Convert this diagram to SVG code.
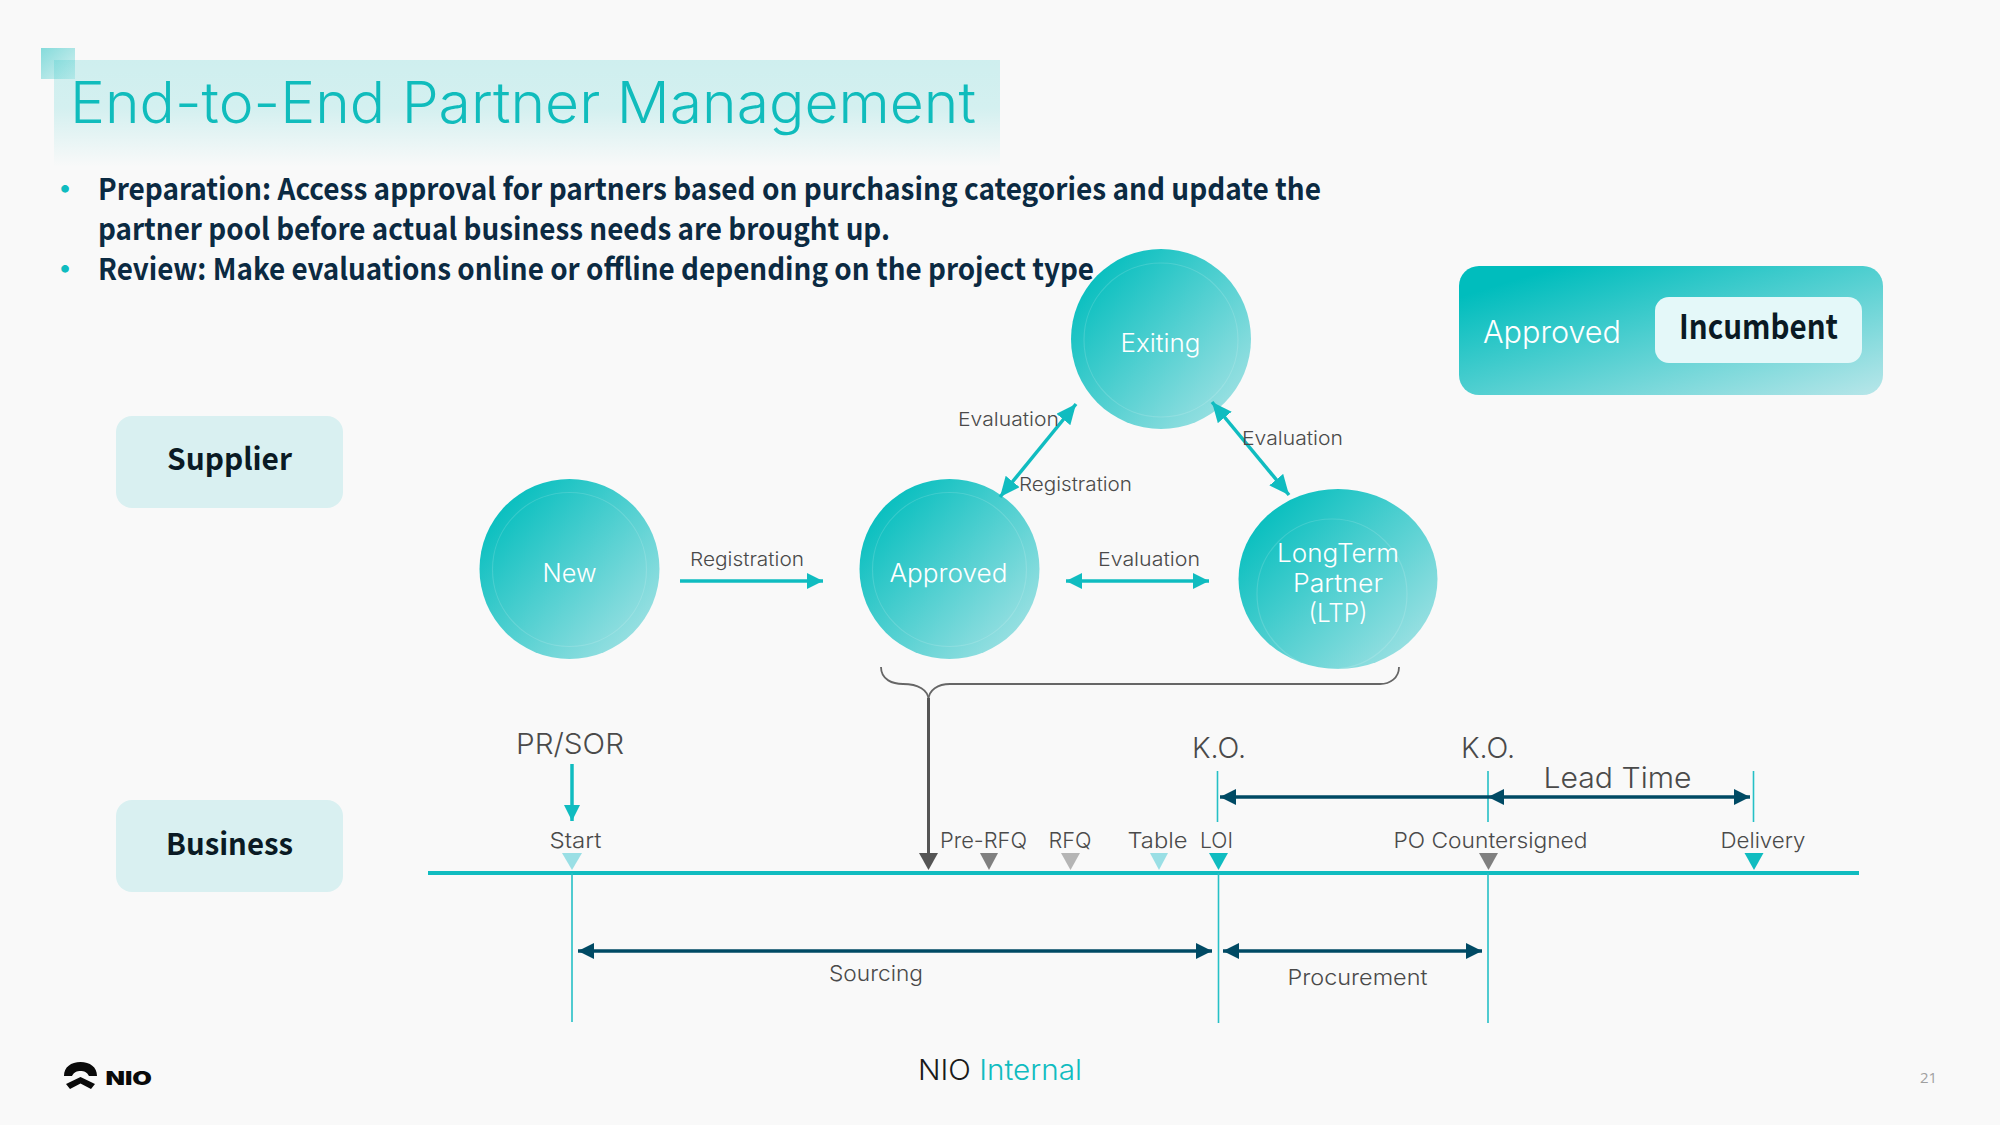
<svg xmlns="http://www.w3.org/2000/svg" width="2000" height="1125" viewBox="0 0 2000 1125">
<style>
.l{font-family:Inter,"Liberation Sans",sans-serif;font-weight:300;fill:#4a4a4a}
.n{font-family:Inter,"Liberation Sans",sans-serif;font-weight:300;fill:#fff;text-anchor:middle}
.b{font-family:"Noto Sans CJK SC","Noto Sans",sans-serif;font-weight:700;fill:#0b2a42}
.k{font-family:"Noto Sans CJK SC","Noto Sans",sans-serif;font-weight:700;fill:#0a1a24}
.t{stroke:#10bcc0;stroke-width:3.500;fill:none}
.d{stroke:#004a64;stroke-width:3.600;fill:none}
.v{stroke:#26c0c6;stroke-width:1.600;fill:none}
.ring{fill:none;stroke:#fff;stroke-opacity:.14;stroke-width:1.200}
</style>
<defs>
<linearGradient id="g" x1=".08" y1=".1" x2=".95" y2=".9"><stop offset="0" stop-color="#00bdbd"/><stop offset="1" stop-color="#a2e2e4"/></linearGradient>
<linearGradient id="lg" x1="0" y1="0" x2="1" y2="1"><stop offset=".12" stop-color="#00bdbd"/><stop offset="1" stop-color="#b8e6e9"/></linearGradient>
<linearGradient id="tb" x1="0" y1="0" x2="0" y2="1"><stop offset="0" stop-color="#00bdbd" stop-opacity=".17"/><stop offset=".45" stop-color="#00bdbd" stop-opacity=".15"/><stop offset="1" stop-color="#00bdbd" stop-opacity="0"/></linearGradient>
<linearGradient id="sq" x1="0" y1="0" x2="1" y2="1"><stop offset="0" stop-color="#85dbdb"/><stop offset="1" stop-color="#d5f0f0"/></linearGradient>
<marker id="ta" markerUnits="userSpaceOnUse" markerWidth="17" markerHeight="17" refX="16" refY="8" orient="auto-start-reverse"><path d="M0 0L16 8L0 16Z" fill="#10bcc0"/></marker>
<marker id="tb2" markerUnits="userSpaceOnUse" markerWidth="21" markerHeight="19" refX="20" refY="9" orient="auto-start-reverse"><path d="M0 0L20 9L0 18Z" fill="#10bcc0"/></marker>
<marker id="da" markerUnits="userSpaceOnUse" markerWidth="17" markerHeight="17" refX="16" refY="8" orient="auto-start-reverse"><path d="M0 0L16 8L0 16Z" fill="#004a64"/></marker>
</defs>
<rect width="2000" height="1125" fill="#f9f9f9"/>
<g id="title">
<rect x="41" y="48" width="34" height="31" fill="url(#sq)"/>
<rect x="54" y="60" width="946" height="107" fill="url(#tb)"/>
<text x="70" y="123" font-size="57" textLength="906" lengthAdjust="spacingAndGlyphs" style="font-family:Inter,'Liberation Sans',sans-serif;font-weight:300;fill:#10bcbc">End-to-End Partner Management</text>
</g>
<g id="bullets" font-size="30">
<text class="b" x="50" y="200" style="fill:#10bcc0">•</text>
<text class="b" x="98" y="200" textLength="1223" lengthAdjust="spacingAndGlyphs">Preparation: Access approval for partners based on purchasing categories and update the</text>
<text class="b" x="98" y="240" textLength="792" lengthAdjust="spacingAndGlyphs">partner pool before actual business needs are brought up.</text>
<text class="b" x="50" y="280" style="fill:#10bcc0">•</text>
<text class="b" x="98" y="280" textLength="996" lengthAdjust="spacingAndGlyphs">Review: Make evaluations online or offline depending on the project type</text>
</g>
<g id="supplier"><rect x="116" y="416" width="227" height="92" rx="16" fill="#d9f0f1"/><text class="k" x="229.500" y="470" font-size="30" text-anchor="middle" textLength="125" lengthAdjust="spacingAndGlyphs">Supplier</text></g>
<g id="business"><rect x="116" y="800" width="227" height="92" rx="16" fill="#d9f0f1"/><text class="k" x="229.500" y="855" font-size="30" text-anchor="middle" textLength="127" lengthAdjust="spacingAndGlyphs">Business</text></g>
<g id="legend">
<rect x="1459" y="266" width="424" height="129" rx="20" fill="url(#lg)"/>
<text x="1483" y="343" font-size="31" textLength="138" lengthAdjust="spacingAndGlyphs" style="font-family:Inter,sans-serif;font-weight:300;fill:#fff">Approved</text>
<rect x="1655" y="297" width="207" height="66" rx="14" fill="#e4f8f9"/>
<text class="k" x="1679" y="339" font-size="33" textLength="159" lengthAdjust="spacingAndGlyphs">Incumbent</text>
</g>
<g id="new"><circle cx="569.500" cy="569" r="90" fill="url(#g)"/><circle class="ring" cx="569.500" cy="569.500" r="77"/><text class="n" x="569.500" y="582" font-size="25" textLength="54" lengthAdjust="spacingAndGlyphs">New</text></g>
<g id="approved"><circle cx="949.500" cy="569" r="90" fill="url(#g)"/><circle class="ring" cx="949.500" cy="569.500" r="77"/><text class="n" x="948.500" y="582" font-size="25" textLength="118" lengthAdjust="spacingAndGlyphs">Approved</text></g>
<g id="exiting"><circle cx="1161" cy="339" r="90" fill="url(#g)"/><circle class="ring" cx="1161" cy="340" r="77"/><text class="n" x="1160.500" y="352" font-size="25" textLength="80" lengthAdjust="spacingAndGlyphs">Exiting</text></g>
<g id="ltp"><ellipse cx="1338" cy="579" rx="99.500" ry="90" fill="url(#g)"/><circle class="ring" cx="1332" cy="594" r="75"/>
<text class="n" x="1338" y="562" font-size="25" textLength="122" lengthAdjust="spacingAndGlyphs">LongTerm</text><text class="n" x="1338" y="592" font-size="25" textLength="90" lengthAdjust="spacingAndGlyphs">Partner</text><text class="n" x="1338" y="622" font-size="25" textLength="59" lengthAdjust="spacingAndGlyphs">(LTP)</text></g>
<g id="connectors">
<line class="t" x1="680" y1="581" x2="823" y2="581" marker-end="url(#ta)"/>
<line class="t" x1="1066" y1="581" x2="1209" y2="581" marker-start="url(#ta)" marker-end="url(#ta)"/>
<line class="t" x1="1000" y1="497" x2="1076" y2="404" marker-start="url(#tb2)" marker-end="url(#tb2)"/>
<line class="t" x1="1212" y1="402" x2="1289" y2="495" marker-start="url(#tb2)" marker-end="url(#tb2)"/>
<line class="t" x1="572" y1="764" x2="572" y2="821" marker-end="url(#ta)"/>
<path d="M881 667C881 680 893 684 903 684C918 684 928.500 690 928.500 700" fill="none" stroke="#666" stroke-width="1.800"/>
<path d="M1399 667C1399 678 1390 684 1380 684H950C938 684 928.500 690 928.500 700" fill="none" stroke="#666" stroke-width="1.800"/>
<line x1="928.500" y1="698" x2="928.500" y2="858" stroke="#555" stroke-width="3"/>
<line x1="428" y1="873" x2="1859" y2="873" stroke="#10bcc0" stroke-width="4"/>
<path class="v" d="M572 873V1022M1218.500 873V1023M1488 873V1023M1217.500 771V822M1488 771V822M1753.500 771V822"/>
<line class="d" x1="578" y1="951" x2="1212" y2="951" marker-start="url(#da)" marker-end="url(#da)"/>
<line class="d" x1="1223" y1="951" x2="1482" y2="951" marker-start="url(#da)" marker-end="url(#da)"/>
<line class="d" x1="1220" y1="797" x2="1488" y2="797" marker-start="url(#da)"/>
<line class="d" x1="1488" y1="797" x2="1750" y2="797" marker-start="url(#da)" marker-end="url(#da)"/>
</g>
<g id="markers">
<path d="M562 853H582L572 870Z" fill="#9adfe5"/>
<path d="M919 853H938L928.500 870Z" fill="#555"/>
<path d="M980 853H998L989 870Z" fill="#808080"/>
<path d="M1061 853H1080L1070.500 870Z" fill="#b5b5b5"/>
<path d="M1150 853H1168L1159 870Z" fill="#9adfe5"/>
<path d="M1209 853H1228L1218.500 870Z" fill="#10bcc0"/>
<path d="M1479 853H1498L1488.500 870Z" fill="#808080"/>
<path d="M1744.500 853H1763.500L1754 870Z" fill="#10bcc0"/>
</g>
<g id="labels" font-size="19">
<text class="l" x="958" y="426" textLength="101" lengthAdjust="spacingAndGlyphs">Evaluation</text>
<text class="l" x="1242" y="445" textLength="101" lengthAdjust="spacingAndGlyphs">Evaluation</text>
<text class="l" x="1019" y="491" textLength="113" lengthAdjust="spacingAndGlyphs">Registration</text>
<text class="l" x="690" y="566" textLength="114" lengthAdjust="spacingAndGlyphs">Registration</text>
<text class="l" x="1098" y="566" textLength="102" lengthAdjust="spacingAndGlyphs">Evaluation</text>
<text class="l" x="516" y="754" font-size="29" textLength="108" lengthAdjust="spacingAndGlyphs">PR/SOR</text>
<text class="l" x="1192" y="758" font-size="29" textLength="54" lengthAdjust="spacingAndGlyphs">K.O.</text>
<text class="l" x="1461" y="758" font-size="29" textLength="54" lengthAdjust="spacingAndGlyphs">K.O.</text>
<text class="l" x="1543.500" y="788" font-size="29" textLength="148" lengthAdjust="spacingAndGlyphs">Lead Time</text>
<text class="l" x="549.500" y="848" font-size="22" textLength="52" lengthAdjust="spacingAndGlyphs">Start</text>
<text class="l" x="940" y="848" font-size="22" textLength="87" lengthAdjust="spacingAndGlyphs">Pre-RFQ</text>
<text class="l" x="1048.500" y="848" font-size="22" textLength="43" lengthAdjust="spacingAndGlyphs">RFQ</text>
<text class="l" x="1127.500" y="848" font-size="22" textLength="60" lengthAdjust="spacingAndGlyphs">Table</text>
<text class="l" x="1200" y="848" font-size="22" textLength="33" lengthAdjust="spacingAndGlyphs">LOI</text>
<text class="l" x="1393.500" y="848" font-size="22" textLength="194" lengthAdjust="spacingAndGlyphs">PO Countersigned</text>
<text class="l" x="1720.500" y="848" font-size="22" textLength="85" lengthAdjust="spacingAndGlyphs">Delivery</text>
<text class="l" x="829" y="981" font-size="22" textLength="94" lengthAdjust="spacingAndGlyphs">Sourcing</text>
<text class="l" x="1287.500" y="985" font-size="22" textLength="140" lengthAdjust="spacingAndGlyphs">Procurement</text>
</g>
<g id="footer">
<path d="M64 1076C64 1067 71 1062 80.500 1062C90 1062 97 1067 97 1076H89C87 1072 84 1071 80.500 1071C77 1071 74 1072 72 1076Z" fill="#0a0a0a"/>
<path d="M66 1084L80.500 1077L95 1084L91 1089L80.500 1083.500L70 1089Z" fill="#0a0a0a"/>
<text x="105.500" y="1084.500" font-size="19" textLength="46.500" lengthAdjust="spacingAndGlyphs" style="font-family:Inter,sans-serif;font-weight:900;fill:#0a0a0a">NIO</text>
<text x="918" y="1080" font-size="28" textLength="164" lengthAdjust="spacingAndGlyphs" style="font-family:Inter,sans-serif;font-weight:300;fill:#1a1a1a">NIO <tspan fill="#10bcc0">Internal</tspan></text>
<text x="1920" y="1083" font-size="15" style="font-family:'Open Sans',sans-serif;fill:#a0a0a0">21</text>
</g>
</svg>
